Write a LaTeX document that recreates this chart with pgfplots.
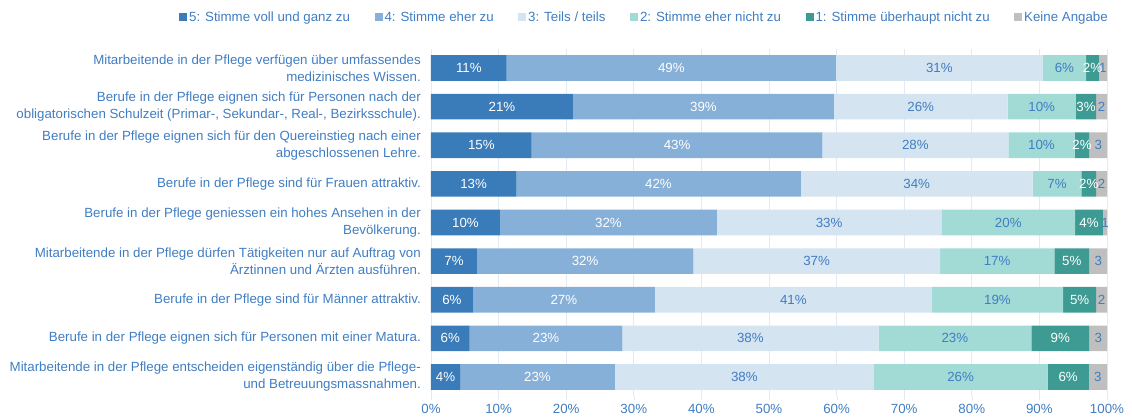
\documentclass[border=0pt]{standalone}
\usepackage{pgfplots}
\usepackage{pgfplotstable}
\pgfplotsset{compat=1.18}
\usepackage{fontspec}
\setmainfont{Liberation Sans}

\definecolor{txt}{RGB}{64,125,194}
\definecolor{gridc}{RGB}{226,234,243}
\definecolor{c5}{RGB}{58,123,185}
\definecolor{c4}{RGB}{134,176,216}
\definecolor{c3}{RGB}{213,228,241}
\definecolor{c2}{RGB}{162,218,214}
\definecolor{c1}{RGB}{61,155,147}
\definecolor{c0}{RGB}{191,191,191}

\pgfplotstableread{
row s5 s4 s3 s2 s1 s0
0 11.2 48.7 30.6 6.4 1.9 1.2
1 21.0 38.6 25.7 10.1 3.0 1.6
2 14.9 43.0 27.5 9.8 2.2 2.6
3 12.6 42.1 34.3 7.2 2.2 1.6
4 10.2 32.1 33.2 19.8 4.1 0.6
5 6.8 32.0 36.5 16.9 5.2 2.6
6 6.2 26.9 41.0 19.4 4.9 1.6
7 5.7 22.6 37.9 22.6 8.6 2.6
8 4.3 22.9 38.3 25.7 6.1 2.7
}\datatable

\newcommand{\fnt}{\fontsize{13.3}{17}\selectfont}

\begin{document}
\begin{tikzpicture}
\useasboundingbox (-431pt,-19.7pt) rectangle (701pt,396.3pt);
\begin{axis}[
    scale only axis,
    width=676pt, height=347.6pt,
    xbar stacked,
    bar width=25.7pt,
    xmin=0, xmax=100,
    ymin=-0.5, ymax=8.5,
    y dir=reverse,
    ytick={0,...,8},
    yticklabels={
      {Mitarbeitende in der Pflege verfügen über umfassendes\\medizinisches Wissen.},
      {Berufe in der Pflege eignen sich für Personen nach der\\obligatorischen Schulzeit (Primar-, Sekundar-, Real-, Bezirksschule).},
      {Berufe in der Pflege eignen sich für den Quereinstieg nach einer\\abgeschlossenen Lehre.},
      {Berufe in der Pflege sind für Frauen attraktiv.},
      {Berufe in der Pflege geniessen ein hohes Ansehen in der\\Bevölkerung.},
      {Mitarbeitende in der Pflege dürfen Tätigkeiten nur auf Auftrag von\\Ärztinnen und Ärzten ausführen.},
      {Berufe in der Pflege sind für Männer attraktiv.},
      {Berufe in der Pflege eignen sich für Personen mit einer Matura.},
      {Mitarbeitende in der Pflege entscheiden eigenständig über die Pflege-\\und Betreuungsmassnahmen.}
    },
    yticklabel style={align=right, font=\fnt, text=txt, inner xsep=0pt, xshift=-6pt},
    ytick style={draw=none},
    xtick={0,10,...,100},
    xticklabels={0\%,10\%,20\%,30\%,40\%,50\%,60\%,70\%,80\%,90\%,100\%},
    xticklabel style={font=\fnt, text=txt},
    xtick pos=lower,
    tick align=outside,
    major tick length=4pt,
    xtick style={draw=gridc},
    xmajorgrids,
    grid style={draw=gridc, line width=0.8pt},
    axis line style={draw=none},
    /pgf/number format/assume math mode=true,
    visualization depends on=rawx \as \rawx,
    nodes near coords={\pgfmathprintnumber[fixed,precision=0]{\rawx}\%},
    every node near coord/.append style={anchor=center, font=\fnt, text=txt},
    legend columns=6,
    legend style={draw=none, fill=none, font=\fnt, text=txt, inner sep=0pt,
        at={(axis description cs:1,1)}, anchor=east, xshift=3pt, yshift=31.7pt,
        /tikz/every even column/.append style={column sep=22.5pt},
        nodes={inner xsep=2pt}},
    sq/.style={legend image code/.code={\fill[##1] (0pt,-4pt) rectangle (8pt,4pt);}},
]
\addplot[fill=c5, draw=none, sq, nodes near coords style={text=white}] table[x=s5, y=row]{\datatable};
\addlegendentry{5: Stimme voll und ganz zu}
\addplot[fill=c4, draw=none, sq, nodes near coords style={text=white}] table[x=s4, y=row]{\datatable};
\addlegendentry{4: Stimme eher zu}
\addplot[fill=c3, draw=none, sq] table[x=s3, y=row]{\datatable};
\addlegendentry{3: Teils / teils}
\addplot[fill=c2, draw=none, sq] table[x=s2, y=row]{\datatable};
\addlegendentry{2: Stimme eher nicht zu}
\addplot[fill=c1, draw=none, sq, nodes near coords style={text=white}] table[x=s1, y=row]{\datatable};
\addlegendentry{1: Stimme überhaupt nicht zu}
\addplot[fill=c0, draw=none, sq, nodes near coords={\pgfmathprintnumber[fixed,precision=0]{\rawx}}] table[x=s0, y=row]{\datatable};
\addlegendentry{Keine Angabe}
\end{axis}
\end{tikzpicture}
\end{document}
